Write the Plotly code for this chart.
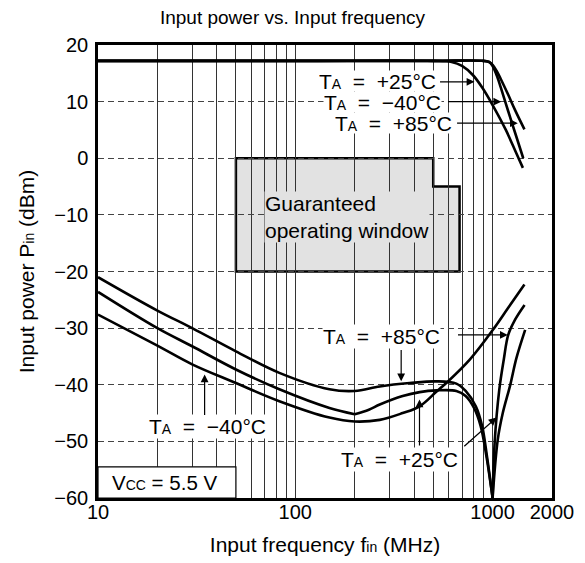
import numpy as np
import plotly.graph_objects as go

# ---------------- data ----------------
# Maximum input power curves (upper group)
FREQ_MAX_P25 = [10, 100, 500, 620, 700, 794, 889, 1000, 1167, 1314, 1424]
PIN_MAX_P25 = [17.2, 17.2, 17.2, 17.0, 16.3, 14.7, 12.4, 9.4, 5.0, 1.0, -1.7]

FREQ_MAX_M40 = [10, 100, 500, 900, 960, 1000, 1050, 1100, 1200, 1300, 1430]
PIN_MAX_M40 = [17.2, 17.2, 17.2, 17.2, 17.0, 16.3, 14.6, 12.5, 8.3, 4.5, 0.0]

FREQ_MAX_P85 = [10, 100, 500, 900, 960, 1000, 1050, 1100, 1200, 1300, 1450]
PIN_MAX_P85 = [17.2, 17.2, 17.2, 17.2, 17.0, 16.5, 15.4, 14.0, 11.2, 8.5, 5.1]

# Minimum input power (sensitivity) curves (lower group)
FREQ_MIN_M40 = [10, 20, 30, 50, 83, 149, 200, 268, 350, 427, 520, 586, 764, 1018, 1200, 1450]
PIN_MIN_M40 = [-27.6, -33.1, -36.4, -39.7, -42.9, -45.8, -46.5, -46.2, -45.0, -43.8,
               -41.2, -39.6, -35.6, -30.0, -26.4, -22.3]

FREQ_MIN_P85 = [10, 20, 30, 50, 83, 149, 200, 268, 380, 520, 655, 730, 822, 885, 936,
                1000, 1025, 1080, 1140, 1200, 1300, 1452]
PIN_MIN_P85 = [-21.0, -26.9, -30.0, -34.1, -37.9, -40.8, -41.1, -40.3, -39.7, -39.4,
               -39.8, -41.1, -43.8, -47.3, -52.6, -60.0, -50.0, -41.0, -35.5, -31.2,
               -28.5, -25.9]
BREAKS_MIN_P85 = [1000]

FREQ_MIN_P25 = [10, 20, 30, 50, 83, 149, 200, 236, 268, 350, 427, 520, 655, 730, 805,
                870, 930, 1000, 1062, 1126, 1227, 1320, 1462]
PIN_MIN_P25 = [-23.6, -30.0, -33.2, -37.3, -40.8, -44.1, -45.2, -44.4, -43.5, -42.0,
               -41.3, -41.0, -41.1, -42.0, -44.1, -47.3, -52.6, -60.0, -49.7, -45.0,
               -40.1, -35.3, -30.3]
BREAKS_MIN_P25 = [200, 1000]

# Guaranteed operating window outline (MHz, dBm)
WINDOW_F = [50, 500, 500, 680, 680, 50]
WINDOW_P = [0, 0, -5, -5, -20, -20]

# Vcc note box (MHz, dBm)
VCC_BOX_F = [10, 50]
VCC_BOX_P = [-60, -54.5]

# Axis ticks
GRID_FREQS = [10, 20, 30, 40, 50, 60, 70, 80, 90, 100, 200, 300, 400, 500, 600, 700,
              800, 900, 1000, 2000]
LABELED_FREQS = [10, 100, 1000, 2000]
Y_TICKS = [20, 10, 0, -10, -20, -30, -40, -50, -60]

FONT = "Liberation Sans, Arial, Helvetica, sans-serif"
SUB = "<span style='font-size:14px'>{}</span>"
NB = "\u00a0"


def ta(temp):
    return "T" + SUB.format("A") + NB + " =" + NB + " " + temp


# Text labels: (text, right-edge freq, dBm, box height or None)
LABELS = [
    (ta("+25°C"), 520, 13.6, 20),
    (ta("\u221240°C"), 557, 10.0, 20),
    (ta("+85°C"), 629, 6.2, 20),
    (ta("+85°C"), 549, -31.4, None),
    (ta("+25°C"), 674, -53.2, None),
    (ta("\u221240°C"), 72, -47.3, None),
]
# Arrows: (start freq, start dBm, tip freq, tip dBm)
ARROWS = [
    (532, 13.5, 809, 13.5),
    (584, 10.0, 1106, 10.0),
    (649, 6.2, 1342, 6.2),
    (656, -31.2, 1194, -31.2),
    (344, -33.6, 344, -39.4),
    (426, -51.0, 426, -42.6),
    (706, -51.1, 1046, -45.8),
    (34.7, -45.6, 34.7, -38.2),
]

fig = go.Figure()


def add_curve(freqs, vals, breaks=()):
    idx = [0] + [freqs.index(b) for b in breaks] + [len(freqs) - 1]
    for a, b in zip(idx[:-1], idx[1:]):
        fig.add_trace(go.Scatter(
            x=freqs[a:b + 1], y=vals[a:b + 1], mode="lines",
            line=dict(color="black", width=2.6, shape="spline", smoothing=1.0),
            showlegend=False, hoverinfo="skip"))


add_curve(FREQ_MAX_P25, PIN_MAX_P25)
add_curve(FREQ_MAX_M40, PIN_MAX_M40)
add_curve(FREQ_MAX_P85, PIN_MAX_P85)
add_curve(FREQ_MIN_M40, PIN_MIN_M40)
add_curve(FREQ_MIN_P85, PIN_MIN_P85, BREAKS_MIN_P85)
add_curve(FREQ_MIN_P25, PIN_MIN_P25, BREAKS_MIN_P25)

# guaranteed window shape (shape paths use data values)
path = "M " + " L ".join(f"{x},{y}" for x, y in zip(WINDOW_F, WINDOW_P)) + " Z"
fig.add_shape(type="path", path=path, xref="x", yref="y",
              fillcolor="#e2e2e2", line=dict(color="black", width=2.5), layer="below")

# Vcc box
fig.add_shape(type="rect", xref="x", yref="y",
              x0=VCC_BOX_F[0], x1=VCC_BOX_F[1], y0=VCC_BOX_P[0], y1=VCC_BOX_P[1],
              fillcolor="white", line=dict(color="black", width=1.2), layer="above")

annotations = []
for text, f, p, h in LABELS:
    ann = dict(x=np.log10(f), y=p, xref="x", yref="y", text=text,
               showarrow=False, xanchor="right", yanchor="middle",
               bgcolor="white", borderpad=0,
               font=dict(size=21, color="black", family=FONT))
    if h is not None:
        ann["height"] = h
        ann["valign"] = "middle"
    annotations.append(ann)
for f0, p0, f1, p1 in ARROWS:
    annotations.append(dict(x=np.log10(f1), y=p1, ax=np.log10(f0), ay=p0,
                            xref="x", yref="y", axref="x", ayref="y", text="",
                            showarrow=True, arrowhead=2, arrowsize=1.3, arrowwidth=1.2,
                            arrowcolor="black", standoff=0, startstandoff=0))
annotations.append(dict(x=np.log10(69), y=-10.4, xref="x", yref="y",
                        text="Guaranteed<br>operating window", showarrow=False,
                        xanchor="left", yanchor="middle", align="left",
                        bgcolor="#e2e2e2", borderpad=0,
                        font=dict(size=21, color="black", family=FONT)))
annotations.append(dict(x=np.log10(21.8), y=-57.3, xref="x", yref="y",
                        text="V" + SUB.format("CC") + " = 5.5 V", showarrow=False,
                        xanchor="center", yanchor="middle",
                        font=dict(size=20.5, color="black", family=FONT)))

fig.update_layout(
    width=585, height=563,
    margin=dict(l=98, r=33, t=45, b=65, autoexpand=False),
    paper_bgcolor="white", plot_bgcolor="white",
    font=dict(family=FONT, size=20, color="black"),
    title=dict(text="Input power vs. Input frequency", x=0.5, xref="container",
               xanchor="center", y=1 - 17 / 563, yref="container", yanchor="middle",
               font=dict(size=19, color="black", family=FONT)),
    annotations=annotations,
    showlegend=False,
)
fig.update_xaxes(
    type="log", range=[1, np.log10(2000)], automargin=False,
    tickmode="array", tickvals=GRID_FREQS,
    ticktext=[str(f) if f in LABELED_FREQS else "" for f in GRID_FREQS],
    showgrid=True, gridcolor="#333333", gridwidth=1,
    showline=True, linecolor="black", linewidth=2.5, mirror=True,
    ticks="", zeroline=False, ticklabelstandoff=-6,
    tickfont=dict(size=20, color="black", family=FONT),
    title=dict(text="Input frequency f" + SUB.format("in") + " (MHz)",
               standoff=16, font=dict(size=21, color="black", family=FONT)),
)
fig.update_yaxes(
    range=[-60, 20], automargin=False, tickmode="array", tickvals=Y_TICKS,
    showgrid=True, gridcolor="#444444", gridwidth=1, griddash="6px,4px",
    showline=True, linecolor="black", linewidth=2.5, mirror=True,
    ticks="", zeroline=False, ticklabelstandoff=3,
    tickfont=dict(size=20, color="black", family=FONT),
    title=dict(text="Input power P" + SUB.format("in") + " (dBm)",
               standoff=14, font=dict(size=21, color="black", family=FONT)),
)

fig.write_html("out.html")
